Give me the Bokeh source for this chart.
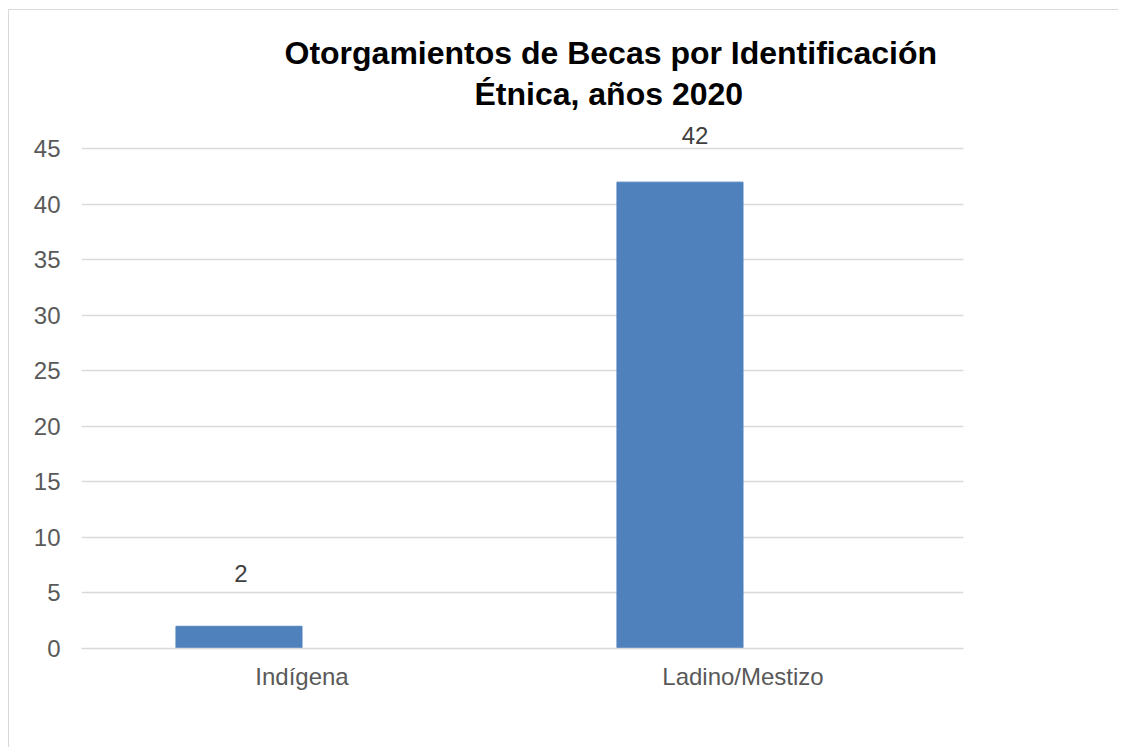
from bokeh.plotting import figure
from bokeh.models import ColumnDataSource, FactorRange, Range1d, FixedTicker, Title
from bokeh.transform import dodge
from bokeh.core.properties import value
from bokeh.embed import file_html
from bokeh.resources import INLINE

# ---- data ----
categories = ["Indígena", "Ladino/Mestizo"]
becas = [2, 42]
y_ticks = [0, 5, 10, 15, 20, 25, 30, 35, 40, 45]
title_lines = ["Otorgamientos de Becas por Identificación", "Étnica, años 2020"]

# label placement (screen px), kept separate from data
label_dx = [2, 15]
label_dy = [-53, -47]

FONT = "Liberation Sans"
BAR = "#4F81BD"
GRID = "#d9d9d9"

src = ColumnDataSource(dict(
    cat=categories,
    val=becas,
    lab=[str(v) for v in becas],
    dx=label_dx,
    dy=label_dy,
))

p = figure(
    x_range=FactorRange(factors=categories, range_padding=0),
    y_range=Range1d(0, 48),
    width=1110, height=738,
    output_backend="svg", toolbar_location=None,
    min_border_left=72, min_border_right=156,
    min_border_top=105, min_border_bottom=100,
)
p.styles = {
    "margin-left": "8px", "margin-top": "9px",
    "border-left": "1px solid #d9d9d9", "border-top": "1px solid #d9d9d9",
}

# two title lines, first added sits closest to the frame
t2 = Title(text=title_lines[1], align="left", offset=393, standoff=8,
           text_font=FONT, text_font_size="32px", text_font_style="bold",
           text_color="#000000")
t1 = Title(text=title_lines[0], align="left", offset=203, standoff=-3,
           text_font=FONT, text_font_size="32px", text_font_style="bold",
           text_color="#000000")
p.add_layout(t2, "above")
p.add_layout(t1, "above")

xpos = dodge("cat", -0.1429, range=p.x_range)
p.vbar(x=xpos, top="val", bottom=0, width=0.2858, source=src,
       fill_color=BAR, line_color=BAR, line_width=1)
p.text(x=xpos, y="val", text="lab", x_offset="dx", y_offset="dy", source=src,
       text_align="center", text_baseline="middle",
       text_font=value(FONT), text_font_size="24px", text_color="#404040")

p.outline_line_color = None
p.background_fill_color = "white"
p.border_fill_color = "white"

p.xgrid.grid_line_color = None
p.ygrid.ticker = FixedTicker(ticks=y_ticks)
p.ygrid.grid_line_color = GRID
p.ygrid.grid_line_width = 1.3

p.yaxis.ticker = FixedTicker(ticks=y_ticks)
p.yaxis.axis_line_color = None
p.yaxis.major_tick_line_color = None
p.yaxis.minor_tick_line_color = None
p.yaxis.major_tick_out = 0
p.yaxis.major_tick_in = 0
p.yaxis.major_label_standoff = 21
p.yaxis.major_label_text_font = FONT
p.yaxis.major_label_text_font_size = "24px"
p.yaxis.major_label_text_color = "#595959"

p.xaxis.axis_line_color = GRID
p.xaxis.axis_line_width = 1.3
p.xaxis.major_tick_line_color = None
p.xaxis.minor_tick_line_color = None
p.xaxis.major_tick_out = 0
p.xaxis.major_tick_in = 0
p.xaxis.major_label_standoff = 14
p.xaxis.major_label_text_font = FONT
p.xaxis.major_label_text_font_size = "24px"
p.xaxis.major_label_text_color = "#595959"

open("out.html", "w").write(file_html(p, INLINE))
